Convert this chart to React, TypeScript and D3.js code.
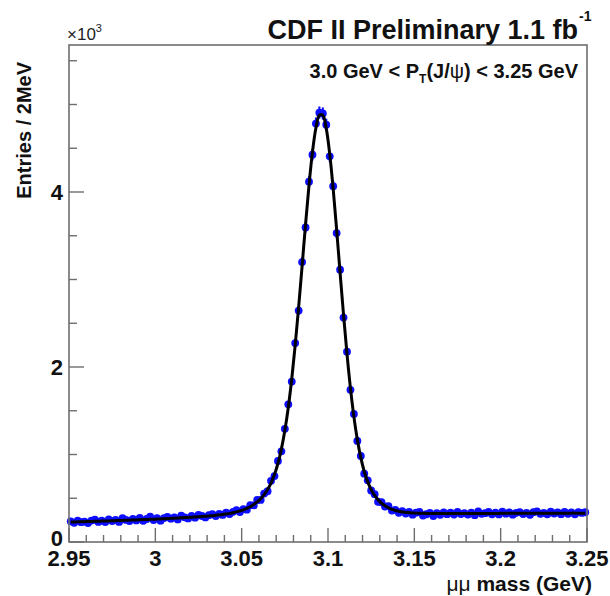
import React from "react";
import * as d3 from "d3";

// Bin centres: 2 MeV bins from 2.95 to 3.25 GeV
const binStart = 2.95;
const binWidth = 0.002;

// Entries per bin
const entries = [
  236,219,245,226,234,216,245,256,229,244,
  228,259,239,253,230,272,252,240,265,246,
  276,242,263,289,251,274,244,274,286,266,
  282,258,300,282,269,299,278,309,297,281,
  307,319,296,322,309,335,319,345,364,343,
  376,369,421,418,480,481,553,580,699,753,
  927,1036,1293,1573,1833,2274,2645,3199,3595,4117,
  4426,4782,4907,4897,4769,4408,4066,3531,3112,2565,
  2175,1739,1463,1155,984,781,705,589,547,460,
  455,406,411,359,366,333,354,326,343,312,
  335,343,303,317,334,296,330,311,338,318,
  336,314,344,320,330,313,336,307,349,322,
  330,343,317,335,315,348,324,339,312,334,
  342,319,332,311,341,349,322,334,316,346,
  326,338,318,344,323,338,316,342,332,340,
];

// Fit curve evaluated at the bin centres
const fitValues = [
  228,229,230,231,232,234,235,236,237,239,
  240,241,242,244,245,247,248,250,251,252,
  254,256,257,259,260,262,264,266,268,270,
  272,274,276,279,281,284,286,289,292,295,
  298,301,306,310,315,321,327,335,344,355,
  368,384,403,428,458,495,541,600,674,771,
  897,1061,1273,1538,1863,2249,2685,3154,3630,4077,
  4456,4732,4877,4877,4724,4433,4036,3571,3077,2595,
  2150,1759,1433,1170,964,806,687,599,532,482,
  443,414,391,373,360,351,344,338,335,332,
  330,329,328,327,326,326,326,326,326,326,
  326,326,326,326,326,327,327,327,327,327,
  327,327,327,327,327,328,328,328,328,328,
  328,328,328,328,328,329,329,329,329,329,
  329,329,329,329,329,330,330,330,330,330,
];

const xTicks = [2.95, 3, 3.05, 3.1, 3.15, 3.2, 3.25];
const xTickLabels = ["2.95", "3", "3.05", "3.1", "3.15", "3.2", "3.25"];
const yTicks = [0, 2, 4];
const yTickLabels = ["0", "2", "4"];

const W = 610;
const H = 596;
const L = 69, R = 587, T = 45, B = 542;

export default function App() {
  const x = d3.scaleLinear().domain([2.95, 3.25]).range([L, R]);
  const y = d3.scaleLinear().domain([0, 5.68]).range([B, T]);

  const pts = entries.map((v, i) => ({
    m: binStart + binWidth * (i + 0.5),
    v: v / 1000,
    e: Math.sqrt(v) / 1000,
  }));
  const fit = fitValues.map((v, i) => ({ m: binStart + binWidth * (i + 0.5), v: v / 1000 }));

  const line = d3
    .line<{ m: number; v: number }>()
    .x((d) => x(d.m))
    .y((d) => y(d.v))
    .curve(d3.curveCatmullRom.alpha(0.5));

  const xMinor = d3.range(0, 31).map((k) => 2.95 + k * 0.01);
  const yMinor = d3.range(0, 12).map((k) => k * 0.5);

  const font = "'Liberation Sans', Arial, Helvetica, sans-serif";
  const axisColor = "#6e6e6e";
  const blue = "#0a0aff";

  return (
    <svg
      width={W}
      height={H}
      style={{ position: "absolute", left: 0, top: 0, background: "#fff" }}
      fontFamily={font}
    >
      <defs>
        <filter id="soft" x="-20%" y="-20%" width="140%" height="140%">
          <feGaussianBlur stdDeviation="0.45" />
        </filter>
      </defs>
      <rect x={0} y={0} width={W} height={H} fill="#fff" />

      {/* data points */}
      <g filter="url(#soft)">
        {pts.map((p, i) => (
          <g key={i}>
            <line
              x1={x(p.m)}
              x2={x(p.m)}
              y1={y(p.v - p.e)}
              y2={y(p.v + p.e)}
              stroke={blue}
              strokeWidth={2}
            />
            <circle cx={x(p.m)} cy={y(p.v)} r={3.9} fill={blue} />
          </g>
        ))}
      </g>

      {/* fit curve */}
      <path d={line(fit) || ""} fill="none" stroke="#000" strokeWidth={3} filter="url(#soft)" />

      {/* frame */}
      <rect x={L} y={T} width={R - L} height={B - T} fill="none" stroke={axisColor} strokeWidth={1.6} />

      {/* x ticks */}
      {xMinor.map((v, k) => {
        const major = k % 5 === 0;
        return (
          <line
            key={"xt" + k}
            x1={x(v)}
            x2={x(v)}
            y1={B}
            y2={B - (major ? 14 : 7)}
            stroke={axisColor}
            strokeWidth={1.4}
          />
        );
      })}
      {xTicks.map((v, k) => (
        <text
          key={"xl" + k}
          x={x(v)}
          y={566}
          textAnchor="middle"
          fontSize={22}
          fontWeight="bold"
          fill="#111"
        >
          {xTickLabels[k]}
        </text>
      ))}

      {/* y ticks */}
      {yMinor.map((v, k) => {
        const major = k % 4 === 0;
        return (
          <line
            key={"yt" + k}
            x1={L}
            x2={L + (major ? 15 : 8)}
            y1={y(v)}
            y2={y(v)}
            stroke={axisColor}
            strokeWidth={1.4}
          />
        );
      })}
      {yTicks.map((v, k) => (
        <text
          key={"yl" + k}
          x={63}
          y={y(v) + (v === 0 ? 4 : 8)}
          textAnchor="end"
          fontSize={22}
          fontWeight="bold"
          fill="#111"
        >
          {yTickLabels[k]}
        </text>
      ))}

      {/* x10^3 */}
      <text x={67} y={40} fontSize={17} fill="#222">
        ×10<tspan dy={-8} fontSize={11}>3</tspan>
      </text>

      {/* title */}
      <text x={578} y={39} textAnchor="end" fontSize={27} fontWeight="bold" fill="#111">
        CDF II Preliminary 1.1 fb
      </text>
      <text x={579} y={21} fontSize={14} fontWeight="bold" fill="#111">
        -1
      </text>

      {/* subtitle */}
      <text x={578} y={78} textAnchor="end" fontSize={20} fontWeight="bold" fill="#111">
        3.0 GeV &lt; P<tspan dy={5} fontSize={12}>T</tspan>
        <tspan dy={-5}>(J/</tspan>
        <tspan fontWeight="normal">ψ</tspan>
        <tspan>) &lt; 3.25 GeV</tspan>
      </text>

      {/* axis titles */}
      <text
        transform={`translate(31, 62) rotate(-90)`}
        textAnchor="end"
        fontSize={20}
        fontWeight="bold"
        fill="#111"
      >
        Entries / 2MeV
      </text>
      <text x={592} y={591} textAnchor="end" fontSize={21} fontWeight="bold" fill="#111">
        <tspan fontWeight="normal">μμ</tspan> mass (GeV)
      </text>
    </svg>
  );
}
